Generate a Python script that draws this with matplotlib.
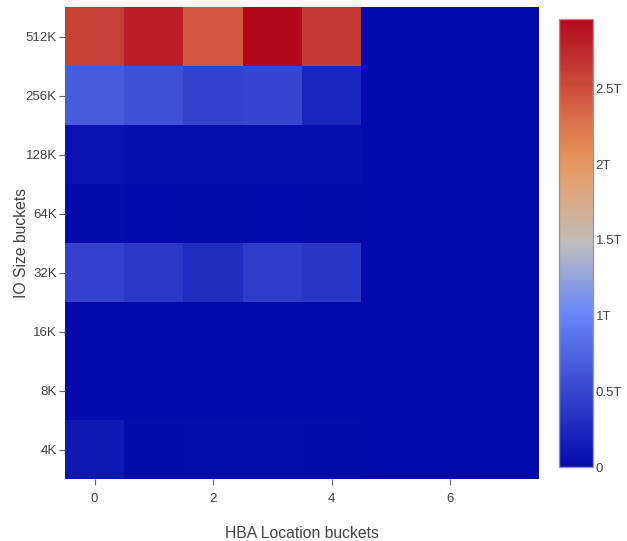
import numpy as np
import matplotlib
matplotlib.use("Agg")
import matplotlib.pyplot as plt
from matplotlib.colors import LinearSegmentedColormap
from matplotlib.ticker import FuncFormatter

plt.rcParams['font.family'] = ['Liberation Sans', 'DejaVu Sans']

# Heatmap data: rows = IO size buckets (bottom to top), cols = HBA location buckets
io_sizes = ["4K", "8K", "16K", "32K", "64K", "128K", "256K", "512K"]
hba_buckets = [0, 1, 2, 3, 4, 5, 6, 7]

row_4k = [0.12e12, 0.02e12, 0.025e12, 0.03e12, 0.02e12, 0, 0, 0]
row_8k = [0.01e12, 0.01e12, 0.01e12, 0.01e12, 0.01e12, 0, 0, 0]
row_16k = [0.01e12, 0.01e12, 0.01e12, 0.01e12, 0.01e12, 0, 0, 0]
row_32k = [0.47e12, 0.39e12, 0.30e12, 0.42e12, 0.38e12, 0, 0, 0]
row_64k = [0.015e12, 0.01e12, 0.012e12, 0.01e12, 0.015e12, 0, 0, 0]
row_128k = [0.06e12, 0.05e12, 0.05e12, 0.055e12, 0.04e12, 0, 0, 0]
row_256k = [0.68e12, 0.58e12, 0.48e12, 0.50e12, 0.22e12, 0, 0, 0]
row_512k = [2.60e12, 2.80e12, 2.43e12, 2.96e12, 2.63e12, 0, 0, 0]

z = np.array([row_4k, row_8k, row_16k, row_32k, row_64k, row_128k, row_256k, row_512k])

# Blue-to-red diverging scale
scale = [
    (0.0, (5, 10, 172)),
    (0.35, (106, 137, 247)),
    (0.5, (190, 190, 190)),
    (0.6, (220, 170, 132)),
    (0.7, (230, 145, 90)),
    (1.0, (178, 10, 28)),
]
cmap = LinearSegmentedColormap.from_list(
    "bluered", [(p, tuple(c / 255 for c in rgb)) for p, rgb in scale])

text_color = "#444444"

fig = plt.figure(figsize=(6.27, 5.41), dpi=100)
ax = fig.add_axes([65 / 627, 1 - 479 / 541, (539 - 65) / 627, (479 - 7) / 541])
cax = fig.add_axes([559 / 627, 1 - 467 / 541, 34 / 627, (467 - 19) / 541])

vmax = z.max()
mesh = ax.imshow(z, cmap=cmap, vmin=0, vmax=vmax, origin="lower",
                 aspect="auto", interpolation="nearest",
                 extent=(-0.5, 7.5, -0.5, 7.5))

ax.set_xticks([0, 2, 4, 6])
ax.set_yticks(range(len(io_sizes)))
ax.set_yticklabels(io_sizes)
ax.tick_params(colors=text_color, labelsize=9.5, length=4, width=0.8,
               color="#666666")
ax.tick_params(axis="y", pad=2)
ax.tick_params(axis="x", pad=6)
for s in ax.spines.values():
    s.set_visible(False)

ax.set_xlabel("HBA Location buckets", fontsize=11.3, color=text_color, labelpad=15)
ax.set_ylabel("IO Size buckets", fontsize=11.3, color=text_color, labelpad=-2.5)

cb = fig.colorbar(mesh, cax=cax)
cb.set_ticks([0, 0.5e12, 1e12, 1.5e12, 2e12, 2.5e12])


def tfmt(v, pos):
    if v == 0:
        return "0"
    return f"{v / 1e12:g}T"


cb.ax.yaxis.set_major_formatter(FuncFormatter(tfmt))
cb.ax.tick_params(length=0, labelsize=9.5, colors=text_color, pad=2)
cb.outline.set_edgecolor("#999999")
cb.outline.set_linewidth(1)

fig.savefig("out.png", dpi=100)
